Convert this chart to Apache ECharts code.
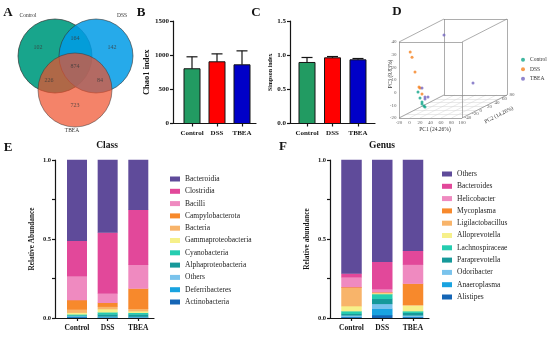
<!DOCTYPE html>
<html><head><meta charset="utf-8">
<script src="https://cdn.jsdelivr.net/npm/echarts@6/dist/echarts.min.js"></script>
<style>html,body{margin:0;padding:0;background:#fff}#c{width:550px;height:337px}</style>
</head><body><div id="c"></div>
<script>
// ---------------- DATA ----------------
const groups = ['Control', 'DSS', 'TBEA'];

// Venn (A)
const vennSets = ['Control', 'DSS', 'TBEA'];
const vennRegions = ['Control only', 'DSS only', 'TBEA only', 'Control & DSS', 'Control & TBEA', 'DSS & TBEA', 'All'];
const vennCounts = [102, 142, 723, 164, 226, 84, 874];

// Alpha diversity (B, C)
const chao1Mean = [801, 903, 859];
const chao1Err = [175, 116, 204];
const simpsonMean = [0.893, 0.961, 0.932];
const simpsonErr = [0.073, 0.019, 0.019];
const chao1Ticks = [0, 500, 1000, 1500];

// PCoA (D): [PC1, PC2, PC3]
const pcoaControl = [[1.9, -20, -2.5], [5.7, -20, -7.2], [9.5, -20, -10.3], [9.5, -20, -11.9], [13.3, -20, -13.5], [15.2, -20, -14.3]];
const pcoaDSS = [[-13, -20, 29], [-9.5, -20, 25], [-3.8, -20, 13.3], [3.8, -20, 1.5], [5.7, -20, 0.7], [9.5, -20, -4.1]];
const pcoaTBEA = [[-12.9, 70, 28.9], [49.5, 60, -7.5], [2.4, -10, -0.9], [8.1, -10, -8], [13.8, -10, -8], [8.1, -10, -9.6]];
const pc1Ticks = [-20, 0, 20, 40, 60, 80, 100];
const pc2Ticks = [-40, -20, 0, 20, 40, 60, 80];
const pc3Ticks = [-20, -10, 0, 10, 20, 30, 40];

// Class (E), bottom -> top
const classNames = ['Actinobacteria', 'Deferribacteres', 'Others ', 'Alphaproteobacteria', 'Cyanobacteria', 'Gammaproteobacteria', 'Bacteria', 'Campylobacterota', 'Bacilli', 'Clostridia', 'Bacteroidia'];
const classControl = [0.004, 0.004, 0.003, 0.004, 0.007, 0.010, 0.020, 0.060, 0.151, 0.224, 0.513];
const classDSS = [0.002, 0.003, 0.003, 0.014, 0.013, 0.020, 0.015, 0.025, 0.058, 0.387, 0.460];
const classTBEA = [0.002, 0.002, 0.003, 0.015, 0.010, 0.010, 0.015, 0.128, 0.151, 0.347, 0.317];

// Genus (F), bottom -> top
const genusNames = ['Alistipes', 'Anaeroplasma', 'Odoribacter', 'Paraprevotella', 'Lachnospiraceae', 'Alloprevotella', 'Ligilactobacillus', 'Mycoplasma', 'Helicobacter', 'Bacteroides', 'Others'];
const genusControl = [0.004, 0.004, 0.007, 0.010, 0.017, 0.032, 0.116, 0.004, 0.062, 0.024, 0.720];
const genusDSS = [0.017, 0.040, 0.031, 0.032, 0.030, 0.005, 0.004, 0.003, 0.020, 0.172, 0.646];
const genusTBEA = [0.004, 0.004, 0.007, 0.017, 0.010, 0.036, 0.004, 0.134, 0.120, 0.088, 0.576];
const abundanceTicks = [0, 0.5, 1.0];

// ---------------- STYLE / LAYOUT ----------------
const serif = '"Liberation Serif", "Times New Roman", serif';
const ink = '#151515';
const stackColors = ['#1565b5', '#19a3e0', '#7ac3ec', '#16999a', '#25cdb0', '#f6f08a', '#f8b46a', '#f7892c', '#ef8ac0', '#e2489a', '#5f4b9a'];
const barColors = ['#229b62', '#ff0000', '#0000c8'];
const vennColors = ['#18a58c', '#009be6', '#ef4e2a'];
const vennOpacity = [1, 0.85, 0.7];
const vennCenters = [[55, 56], [96, 56], [75, 90]];
const vennSetLabelPos = [[28, 16], [122, 16], [72, 131]];
const vennCountPos = [[38, 47], [112, 47], [75, 105], [75, 38], [49, 80], [100, 80], [75, 66]];
const pcoaColors = ['#12a58a', '#f58220', '#7466c0'];
const boxOrigin = [399, 118], boxW = 63, boxH = 76, boxDepth = [45, 23];

// projection of the 3-D PCoA space to the page plane
const r1 = [pc1Ticks[0], pc1Ticks[pc1Ticks.length - 1]];
const r2 = [pc2Ticks[0], pc2Ticks[pc2Ticks.length - 1]];
const r3 = [pc3Ticks[0], pc3Ticks[pc3Ticks.length - 1]];
function proj(p) {
  const a = (p[0] - r1[0]) / (r1[1] - r1[0]);
  const b = (p[1] - r2[0]) / (r2[1] - r2[0]);
  const c = (p[2] - r3[0]) / (r3[1] - r3[0]);
  return [boxOrigin[0] + a * boxW + b * boxDepth[0], boxOrigin[1] - c * boxH - b * boxDepth[1]];
}

// ---------------- HELPERS ----------------
const lineStyle = { color: ink, width: 1.2 };
function yAx(grid, min, max, interval, fmt, name, gap, nameSize, labelSize) {
  return {
    type: 'value', gridIndex: grid, min, max, interval, name, nameLocation: 'middle', nameGap: gap,
    nameTextStyle: { fontFamily: serif, fontWeight: 'bold', fontSize: nameSize, color: ink },
    axisLine: { show: true, onZero: false, lineStyle },
    axisTick: { show: true, length: 3, lineStyle },
    axisLabel: { fontFamily: serif, fontWeight: 'bold', fontSize: labelSize, color: ink, margin: 4, formatter: fmt },
    splitLine: { show: false }
  };
}
function xAx(grid, min, max, labelSize, margin) {
  return {
    type: 'value', gridIndex: grid, min, max,
    axisLine: { show: true, onZero: false, lineStyle },
    axisTick: { show: true, length: 3, customValues: [0, 1, 2], lineStyle },
    axisLabel: { customValues: [0, 1, 2], formatter: v => groups[Math.round(v)], fontFamily: serif, fontWeight: 'bold', fontSize: labelSize, color: ink, margin },
    splitLine: { show: false }
  };
}
function barRender(bw) {
  return (params, api) => {
    const i = api.value(0), v = api.value(1);
    const p0 = api.coord([i, 0]), p1 = api.coord([i, v]);
    return { type: 'rect', shape: { x: p0[0] - bw / 2, y: p1[1], width: bw, height: p0[1] - p1[1] },
      style: { fill: barColors[params.dataIndex], stroke: ink, lineWidth: 1 } };
  };
}
function errRender(cap) {
  return (params, api) => {
    const i = api.value(0), m = api.value(1), t = api.value(2);
    const a = api.coord([i, m]), b = api.coord([i, t]);
    return { type: 'group', children: [
      { type: 'line', shape: { x1: a[0], y1: a[1], x2: b[0], y2: b[1] }, style: { stroke: ink, lineWidth: 1.2 } },
      { type: 'line', shape: { x1: b[0] - cap / 2, y1: b[1], x2: b[0] + cap / 2, y2: b[1] }, style: { stroke: ink, lineWidth: 1.2 } }
    ] };
  };
}
function stackRender(bw) {
  return (params, api) => {
    const i = api.value(0), lo = api.value(1), hi = api.value(2);
    const a = api.coord([i, lo]), b = api.coord([i, hi]);
    return { type: 'rect', shape: { x: a[0] - bw / 2, y: b[1] - 0.3, width: bw, height: a[1] - b[1] + 0.3 },
      style: { fill: api.visual('color') } };
  };
}
function stackSeries(names, arrays, axisIdx, bw) {
  const cum = arrays.map(() => 0);
  return names.map((n, k) => {
    const data = arrays.map((arr, g) => { const lo = cum[g]; cum[g] += arr[k]; return [g, lo, cum[g]]; });
    return { type: 'custom', name: n, xAxisIndex: axisIdx, yAxisIndex: axisIdx, renderItem: stackRender(bw),
      itemStyle: { color: stackColors[k] }, encode: { x: 0, y: [1, 2] }, data, silent: true };
  });
}
function txt(x, y, text, size, bold, rot, color) {
  return { type: 'text', x, y, rotation: rot || 0, silent: true,
    style: { x: 0, y: 0, text, fill: color || ink, font: (bold ? 'bold ' : '') + size + 'px ' + serif,
      align: 'center', verticalAlign: 'middle', textAlign: 'center', textVerticalAlign: 'middle' } };
}
function tickScatter(points, pos, dist) {
  return { type: 'scatter', xAxisIndex: 0, yAxisIndex: 0, symbolSize: 1, itemStyle: { color: 'rgba(0,0,0,0)' }, silent: true,
    data: points, label: { show: true, position: pos, distance: dist, formatter: p => p.data.t, fontSize: 5, fontFamily: serif, color: '#333' } };
}

// ---------------- BUILD ----------------
const series = [];
// Venn circles
vennSets.forEach((s, i) => {
  series.push({ type: 'scatter', name: 'venn-' + s, xAxisIndex: 0, yAxisIndex: 0, symbolSize: 74, silent: true,
    data: [vennCenters[i]], itemStyle: { color: vennColors[i], opacity: vennOpacity[i], borderColor: '#333', borderWidth: 0.7 } });
});
series.push({ type: 'scatter', xAxisIndex: 0, yAxisIndex: 0, symbolSize: 1, itemStyle: { color: 'rgba(0,0,0,0)' }, silent: true,
  data: vennCounts.map((c, i) => ({ value: vennCountPos[i], name: vennRegions[i], t: String(c) })),
  label: { show: true, position: 'inside', formatter: p => p.data.t, fontSize: 6, fontFamily: serif, color: '#3a3a3a' } });

// B, C bars + error bars
series.push({ type: 'custom', xAxisIndex: 1, yAxisIndex: 1, renderItem: barRender(16), encode: { x: 0, y: 1 }, silent: true,
  data: chao1Mean.map((m, i) => [i, m]) });
series.push({ type: 'custom', xAxisIndex: 1, yAxisIndex: 1, renderItem: errRender(11), encode: { x: 0, y: [1, 2] }, silent: true,
  data: chao1Mean.map((m, i) => [i, m, m + chao1Err[i]]) });
series.push({ type: 'custom', xAxisIndex: 2, yAxisIndex: 2, renderItem: barRender(16), encode: { x: 0, y: 1 }, silent: true,
  data: simpsonMean.map((m, i) => [i, m]) });
series.push({ type: 'custom', xAxisIndex: 2, yAxisIndex: 2, renderItem: errRender(11), encode: { x: 0, y: [1, 2] }, silent: true,
  data: simpsonMean.map((m, i) => [i, m, m + simpsonErr[i]]) });

// D: box, floor grid, ticks, points
const segs = [], floor = [];
[r1[0], r1[1]].forEach(a => [r2[0], r2[1]].forEach(b => segs.push([proj([a, b, r3[0]]), proj([a, b, r3[1]])])));
[r1[0], r1[1]].forEach(a => [r3[0], r3[1]].forEach(c => segs.push([proj([a, r2[0], c]), proj([a, r2[1], c])])));
[r2[0], r2[1]].forEach(b => [r3[0], r3[1]].forEach(c => segs.push([proj([r1[0], b, c]), proj([r1[1], b, c])])));
pc1Ticks.forEach(a => floor.push([proj([a, r2[0], r3[0]]), proj([a, r2[1], r3[0]])]));
pc2Ticks.forEach(b => floor.push([proj([r1[0], b, r3[0]]), proj([r1[1], b, r3[0]])]));
series.push({ type: 'lines', coordinateSystem: 'cartesian2d', xAxisIndex: 0, yAxisIndex: 0, silent: true,
  data: floor.map(s => ({ coords: s })), lineStyle: { color: '#d4d4d4', width: 0.5, opacity: 1 } });
series.push({ type: 'lines', coordinateSystem: 'cartesian2d', xAxisIndex: 0, yAxisIndex: 0, silent: true,
  data: segs.map(s => ({ coords: s })), lineStyle: { color: '#8a8a8a', width: 0.7, opacity: 1 } });
series.push(tickScatter(pc3Ticks.map(v => ({ value: proj([r1[0], r2[0], v]), t: String(v) })), 'left', 2));
series.push(tickScatter(pc1Ticks.map(v => ({ value: proj([v, r2[0], r3[0]]), t: String(v) })), 'bottom', 2));
series.push(tickScatter(pc2Ticks.map(v => ({ value: proj([r1[1], v, r3[0]]), t: String(v) })), 'right', 2));
[['Control', pcoaControl], ['DSS', pcoaDSS], ['TBEA', pcoaTBEA]].forEach(([n, pts], i) => {
  series.push({ type: 'scatter', name: n, xAxisIndex: 0, yAxisIndex: 0, symbolSize: 3, silent: true,
    itemStyle: { color: pcoaColors[i] }, data: pts.map(proj) });
});

// E, F stacked
series.push(...stackSeries(classNames, [classControl, classDSS, classTBEA], 3, 20));
series.push(...stackSeries(genusNames, [genusControl, genusDSS, genusTBEA], 4, 20.5));

const abFmt = v => abundanceTicks.some(t => Math.abs(t - v) < 1e-6) ? v.toFixed(1) : '';
const legendText = { fontFamily: serif, fontSize: 7.5, color: '#222', lineHeight: 10 };

const option = {
  animation: false,
  backgroundColor: '#fff',
  grid: [
    { left: 0, top: 0, width: 550, height: 337 },
    { left: 173, top: 21, width: 83, height: 102.5 },
    { left: 290, top: 21, width: 85, height: 102.5 },
    { left: 55, top: 160, width: 99, height: 158 },
    { left: 330, top: 160, width: 99, height: 158 }
  ],
  xAxis: [
    { type: 'value', gridIndex: 0, min: 0, max: 550, show: false },
    xAx(1, -0.76, 2.56, 7, 6),
    xAx(2, -0.667, 2.667, 7, 6),
    xAx(3, -0.718, 2.512, 7.5, 6),
    xAx(4, -0.699, 2.52, 7.5, 6)
  ],
  yAxis: [
    { type: 'value', gridIndex: 0, min: 0, max: 337, inverse: true, show: false },
    yAx(1, 0, 1500, 500, v => String(v), 'Chao1 index', 22, 8.5, 7),
    yAx(2, 0, 1.5, 0.5, v => v.toFixed(1), 'Simpson index', 17, 6, 7),
    yAx(3, 0, 1, 0.25, abFmt, 'Relative Abundance', 19, 7.3, 6.5),
    yAx(4, 0, 1, 0.25, abFmt, 'Relative abundance', 19, 7.3, 6.5)
  ],
  legend: [
    { orient: 'vertical', left: 521, top: 56, padding: 0, selectedMode: false, icon: 'circle', itemWidth: 4, itemHeight: 4, itemGap: 2,
      data: groups, textStyle: { fontFamily: serif, fontSize: 5.5, color: '#333', lineHeight: 7.5 } },
    { orient: 'vertical', left: 170, top: 174, padding: 0, selectedMode: false, icon: 'rect', itemWidth: 10, itemHeight: 5, itemGap: 2.3,
      data: classNames.slice().reverse(), textStyle: legendText },
    { orient: 'vertical', left: 442, top: 169, padding: 0, selectedMode: false, icon: 'rect', itemWidth: 10, itemHeight: 5, itemGap: 2.3,
      data: genusNames.slice().reverse(), textStyle: legendText }
  ],
  graphic: [
    txt(8, 13, 'A', 13, true), txt(141, 13, 'B', 13, true), txt(256, 13, 'C', 13, true), txt(397, 12, 'D', 13, true),
    txt(8, 148, 'E', 13, true), txt(283, 147, 'F', 13, true),
    txt(107, 146, 'Class', 9.5, true), txt(382, 146, 'Genus', 9.5, true),
    ...vennSets.map((s, i) => txt(vennSetLabelPos[i][0], vennSetLabelPos[i][1], s, 5.5, false, 0, '#333')),
    txt(435, 130, 'PC1 (24.26%)', 5.5, false, 0, '#333'),
    txt(391, 74, 'PC3 (9.83%)', 5.5, false, Math.PI / 2, '#333'),
    txt(499, 115, 'PC2 (14.26%)', 5.5, false, 0.47, '#333')
  ],
  series
};
const chart = echarts.init(document.getElementById('c'));
chart.setOption(option);
</script></body></html>
